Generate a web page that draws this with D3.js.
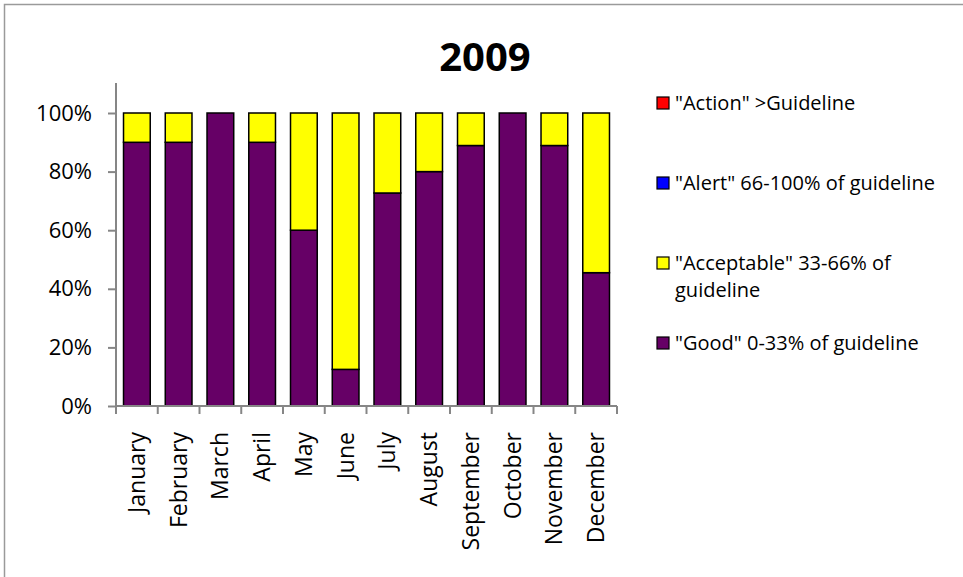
<!DOCTYPE html>
<html>
<head>
<meta charset="utf-8">
<script src="https://cdn.jsdelivr.net/npm/d3@7"></script>
<style>
  html, body { margin: 0; padding: 0; background: #fff; overflow: hidden; }
  svg { display: block; }
  text { font-family: "Open Sans", Lato, sans-serif; fill: #000; }
</style>
</head>
<body>
<svg id="chart" width="963" height="577"></svg>
<script>
// Monthly share of samples in each guideline band, 2009 (percent)
const months = ["January", "February", "March", "April", "May", "June",
                "July", "August", "September", "October", "November", "December"];
const good       = [90, 90, 100, 90, 60, 12.5, 72.7, 80, 88.9, 100, 88.9, 45.5];
const acceptable = [10, 10, 0, 10, 40, 87.5, 27.3, 20, 11.1, 0, 11.1, 54.5];
const alert      = [0, 0, 0, 0, 0, 0, 0, 0, 0, 0, 0, 0];
const action     = [0, 0, 0, 0, 0, 0, 0, 0, 0, 0, 0, 0];
const yTicks = [0, 20, 40, 60, 80, 100];

const seriesNames = ["\"Good\" 0-33% of guideline",
                     "\"Acceptable\" 33-66% of guideline",
                     "\"Alert\" 66-100% of guideline",
                     "\"Action\" >Guideline"];
const seriesColors = ["#660066", "#FFFF00", "#0000FF", "#FF0000"];
const seriesValues = [good, acceptable, alert, action];

const svg = d3.select("#chart");

// chart frame: top and left edges
svg.append("path")
  .attr("d", "M4.5,577V4.5H963")
  .attr("fill", "none").attr("stroke", "#9a9a9a").attr("stroke-width", 1.5);

const plot = { left: 116, right: 617, top: 113, bottom: 406 };

const x = d3.scaleBand().domain(months)
  .range([plot.left, plot.right]).paddingInner(0.36).paddingOuter(0.18);
const y = d3.scaleLinear().domain([0, 100]).range([plot.bottom, plot.top]);

// stacked data
const rows = months.map((m, i) => {
  const r = { month: m };
  seriesNames.forEach((s, k) => r[s] = seriesValues[k][i]);
  return r;
});
const stacked = d3.stack().keys(seriesNames)(rows);

const g = svg.append("g");
stacked.forEach((layer, k) => {
  g.selectAll(null)
    .data(layer.filter(d => d[1] - d[0] > 0))
    .join("rect")
    .attr("x", d => x(d.data.month))
    .attr("width", x.bandwidth())
    .attr("y", d => y(d[1]))
    .attr("height", d => y(d[0]) - y(d[1]))
    .attr("fill", seriesColors[k])
    .attr("stroke", "#000")
    .attr("stroke-width", 1.5);
});

// y axis
const yAxis = svg.append("g")
  .attr("transform", `translate(${plot.left},0)`)
  .call(d3.axisLeft(y).tickValues(yTicks).tickFormat(d => d + "%").tickSize(8).tickSizeOuter(0).tickPadding(16));
yAxis.select(".domain").attr("stroke", "#868686").attr("stroke-width", 2)
  .attr("d", `M0,${plot.bottom}V${plot.top - 30}`);
yAxis.selectAll(".tick line").attr("stroke", "#868686").attr("stroke-width", 2);
yAxis.selectAll(".tick text").attr("font-size", 22).attr("font-family", "'Open Sans', sans-serif").attr("fill", "#000");

// x axis with ticks at category boundaries
const xAxis = svg.append("g");
xAxis.append("line")
  .attr("x1", plot.left).attr("x2", plot.right)
  .attr("y1", plot.bottom).attr("y2", plot.bottom)
  .attr("stroke", "#868686").attr("stroke-width", 2);
const boundaries = d3.range(months.length + 1).map(i => plot.left + i * (plot.right - plot.left) / months.length);
xAxis.selectAll(".xt").data(boundaries).join("line")
  .attr("x1", d => d).attr("x2", d => d)
  .attr("y1", plot.bottom).attr("y2", plot.bottom + 8)
  .attr("stroke", "#868686").attr("stroke-width", 2);
xAxis.selectAll(".xl").data(months).join("text")
  .attr("transform", d => `translate(${x(d) + x.bandwidth() / 2 + 8},${plot.bottom + 26}) rotate(-90)`)
  .attr("text-anchor", "end")
  .attr("font-size", 23)
  .text(d => d);

// title
svg.append("text")
  .attr("x", 485).attr("y", 70.5)
  .attr("text-anchor", "middle")
  .attr("font-size", 40).attr("font-weight", "bold")
  .text("2009");

// legend (top to bottom: Action, Alert, Acceptable, Good)
const legendItems = [
  { k: 3, y: 103, lines: ["\"Action\" >Guideline"] },
  { k: 2, y: 183, lines: ["\"Alert\" 66-100% of guideline"] },
  { k: 1, y: 263, lines: ["\"Acceptable\" 33-66% of", "guideline"] },
  { k: 0, y: 343, lines: ["\"Good\" 0-33% of guideline"] }
];
const lg = svg.append("g");
legendItems.forEach(it => {
  lg.append("rect")
    .attr("x", 657).attr("y", it.y - 6)
    .attr("width", 12).attr("height", 12)
    .attr("fill", seriesColors[it.k]).attr("stroke", "#000").attr("stroke-width", 1.2);
  it.lines.forEach((line, j) => {
    lg.append("text")
      .attr("x", 675).attr("y", it.y + 7 + j * 26.5)
      .attr("font-size", 20)
      .text(line);
  });
});
</script>
</body>
</html>
